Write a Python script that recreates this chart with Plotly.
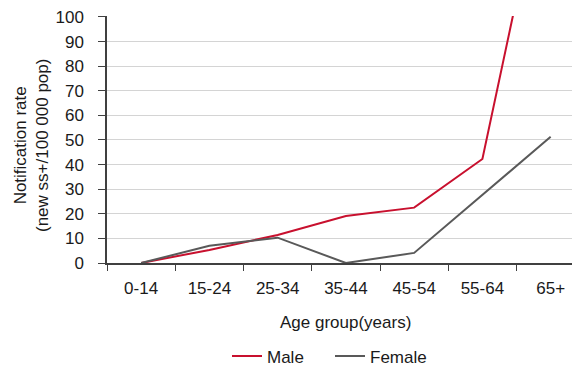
import plotly.graph_objects as go

categories = ["0-14", "15-24", "25-34", "35-44", "45-54", "55-64", "65+"]
male = [0, 5.3, 11.4, 19.1, 22.5, 42.3, 172.4]
female = [0, 7.0, 10.3, 0, 4.1, 27.7, 51.3]
y_ticks = list(range(0, 101, 10))

font = "Liberation Sans, Arial, sans-serif"
# page has an 8px body margin; the figure is sized to fill the rest
OFF = 8
W, H = 580 - OFF, 367 - OFF
L, R, T, B = 107 - OFF, 0, 17 - OFF, 104
pw, ph = 473, 246  # plot area size in px
px0, py0 = 107, 263  # plot area left / bottom in page px

fig = go.Figure()
fig.add_trace(go.Scatter(x=categories, y=male, mode="lines", name="Male",
                         line=dict(color="#c8102e", width=2)))
fig.add_trace(go.Scatter(x=categories, y=female, mode="lines", name="Female",
                         line=dict(color="#595959", width=2)))

fig.update_layout(
    width=W, height=H,
    margin=dict(l=L, r=R, t=T - 1, b=B, autoexpand=False),
    paper_bgcolor="white", plot_bgcolor="white",
    font=dict(family=font, size=17, color="#1a1a1a"),
    showlegend=True,
    legend=dict(orientation="h", x=(227 - px0) / pw, xanchor="left",
                y=(py0 - 356) / ph, yanchor="middle",
                font=dict(size=17), entrywidth=58, tracegroupgap=0),
    xaxis=dict(
        type="category", range=[-0.5, 6.43], automargin=False,
        showline=True, linecolor="#404040", linewidth=1.5,
        ticks="outside", tickson="boundaries", ticklen=6, tickcolor="#404040",
        showgrid=False, zeroline=False,
        tickfont=dict(size=17), ticklabelstandoff=9, ticklabeloverflow="allow",
    ),
    yaxis=dict(
        range=[0, 100.4], tickvals=y_ticks, automargin=False,
        showline=True, linecolor="#404040", linewidth=1.5,
        ticks="outside", ticklen=7, tickcolor="#404040",
        showgrid=True, gridcolor="#d4d4d4", gridwidth=1.2,
        zeroline=False,
        tickfont=dict(size=17), ticklabelstandoff=11, ticklabeloverflow="allow",
    ),
    annotations=[
        dict(text="Age group(years)", xref="paper", yref="paper",
             x=(345 - px0) / pw, y=(py0 - 322) / (ph + 1), xanchor="center", yanchor="middle",
             showarrow=False, font=dict(size=17)),
        dict(text="Notification rate<br>(new ss+/100 000 pop)", xref="paper", yref="paper",
             x=(31 - px0) / pw, y=(py0 - 146) / (ph + 1), xanchor="center", yanchor="middle",
             textangle=-90, showarrow=False, font=dict(size=17)),
    ],
)

fig.write_html("out.html")
